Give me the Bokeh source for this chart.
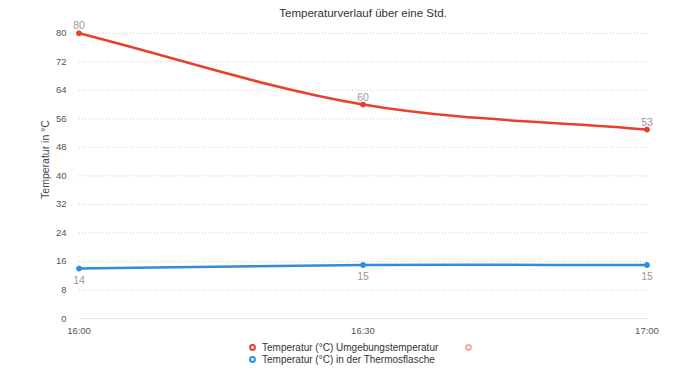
from bokeh.plotting import figure
from bokeh.layouts import column
from bokeh.models import (ColumnDataSource, Range1d, FixedTicker, Legend, LegendItem,
                          LabelSet, Label)
from bokeh.core.properties import value
from bokeh.embed import file_html
from bokeh.resources import INLINE

# ---- data ----
times = ["16:00", "16:30", "17:00"]
minutes = [0, 30, 60]
umgebung = [80, 60, 53]
thermos = [14, 15, 15]
y_ticks = [0, 8, 16, 24, 32, 40, 48, 56, 64, 72, 80]

RED = "#e5412d"
BLUE = "#2f8edb"
FONT = "Liberation Sans"
NAN = float("nan")
FRAME_H = 320
Y_TOP = 89.2


def bezier_source(xs, ys):
    n = len(xs)
    d = [(ys[i + 1] - ys[i]) / (xs[i + 1] - xs[i]) for i in range(n - 1)]
    m = [d[0]] + [(d[i - 1] + d[i]) / 2 for i in range(1, n - 1)] + [d[-1]]
    x0, y0, x1, y1, cx0, cy0, cx1, cy1 = [], [], [], [], [], [], [], []
    for i in range(n - 1):
        h = xs[i + 1] - xs[i]
        x0.append(xs[i]); y0.append(ys[i])
        x1.append(xs[i + 1]); y1.append(ys[i + 1])
        cx0.append(xs[i] + h / 3); cy0.append(ys[i] + m[i] * h / 3)
        cx1.append(xs[i + 1] - h / 3); cy1.append(ys[i + 1] - m[i + 1] * h / 3)
    return ColumnDataSource(dict(x0=x0, y0=y0, x1=x1, y1=y1,
                                 cx0=cx0, cy0=cy0, cx1=cx1, cy1=cy1))


p = figure(width=700, height=338, output_backend="svg", toolbar_location=None,
           x_range=Range1d(-0.9, 60.9), y_range=Range1d(0, Y_TOP),
           min_border_left=70, min_border_right=45, min_border_top=0,
           min_border_bottom=18)
p.outline_line_color = None
p.background_fill_color = "white"

# title drawn inside the top of the frame
p.add_layout(Label(x=(minutes[0] + minutes[-1]) / 2, y=Y_TOP * (FRAME_H - 13) / FRAME_H,
                   text="Temperaturverlauf über eine Std.", text_align="center",
                   text_baseline="middle", text_font=FONT, text_font_size="11.5px",
                   text_color="#333333"))

p.xaxis.ticker = FixedTicker(ticks=minutes)
p.xaxis.major_label_overrides = {m: t for m, t in zip(minutes, times)}
p.yaxis.ticker = FixedTicker(ticks=y_ticks)
for ax in (p.xaxis[0], p.yaxis[0]):
    ax.axis_line_color = None
    ax.major_tick_line_color = None
    ax.minor_tick_line_color = None
    ax.major_tick_out = 0
    ax.major_tick_in = 0
    ax.minor_tick_out = 0
    ax.major_label_text_font = FONT
    ax.major_label_text_font_size = "9.5px"
    ax.major_label_text_color = "#555555"
p.xaxis.major_label_standoff = 6
p.yaxis.major_label_standoff = 4
p.yaxis.axis_label = "Temperatur in °C"
p.yaxis.axis_label_text_font = FONT
p.yaxis.axis_label_text_font_size = "10.5px"
p.yaxis.axis_label_text_font_style = "normal"
p.yaxis.axis_label_text_color = "#444444"
p.yaxis.axis_label_standoff = 2

p.xgrid.grid_line_color = None
p.ygrid.grid_line_color = None

# grid lines spanning the time axis
n_grid = len(y_ticks) - 1
p.segment(x0=[minutes[0]] * n_grid, x1=[minutes[-1]] * n_grid,
          y0=y_ticks[1:], y1=y_ticks[1:], line_color="#cccccc",
          line_width=1, line_dash="1 2")
p.segment(x0=[minutes[0]], x1=[minutes[-1]], y0=[y_ticks[0]], y1=[y_ticks[0]],
          line_color="#cccccc", line_width=1)

for ys, col in ((umgebung, RED), (thermos, BLUE)):
    src = bezier_source(minutes, ys)
    p.bezier(x0="x0", y0="y0", x1="x1", y1="y1", cx0="cx0", cy0="cy0",
             cx1="cx1", cy1="cy1", source=src, line_color=col, line_width=2.5)
    p.scatter(minutes, ys, size=5, color=col)

lab_src_r = ColumnDataSource(dict(x=minutes, y=umgebung, t=[str(v) for v in umgebung]))
lab_src_b = ColumnDataSource(dict(x=minutes, y=thermos, t=[str(v) for v in thermos]))
p.add_layout(LabelSet(x="x", y="y", text="t", source=lab_src_r, y_offset=4,
                      text_align="center", text_baseline="bottom",
                      text_font=value(FONT), text_font_size=value("10.5px"),
                      text_color="#9a9a9a"))
p.add_layout(LabelSet(x="x", y="y", text="t", source=lab_src_b, y_offset=-7,
                      text_align="center", text_baseline="top",
                      text_font=value(FONT), text_font_size=value("10.5px"),
                      text_color="#9a9a9a"))

# ---- legend in a thin strip below ----
q = figure(width=700, height=30, output_backend="svg", toolbar_location=None,
           x_range=Range1d(0, 1), y_range=Range1d(0, 1),
           x_axis_type=None, y_axis_type=None,
           min_border_left=0, min_border_right=0, min_border_top=0,
           min_border_bottom=0)
q.outline_line_color = None
q.xgrid.grid_line_color = None
q.ygrid.grid_line_color = None

r1 = q.scatter([NAN], [NAN], marker="circle", size=7, fill_color="white",
               line_color=RED, line_width=2)
r2 = q.scatter([NAN], [NAN], marker="circle", size=7, fill_color="white",
               line_color=BLUE, line_width=2)
r3 = q.scatter([NAN], [NAN], marker="circle", size=7, fill_color="white",
               line_color=RED, line_width=2, line_alpha=0.45)
legend = Legend(items=[
    LegendItem(label="Temperatur (°C) Umgebungstemperatur", renderers=[r1]),
    LegendItem(label="Temperatur (°C) in der Thermosflasche", renderers=[r2]),
    LegendItem(label=" ", renderers=[r3]),
], orientation="vertical", nrows=2, ncols=2, location=(176, 3),
    label_text_font=FONT, label_text_font_size="10px", label_text_color="#333333",
    label_height=11, label_width=200, glyph_height=12, glyph_width=12,
    label_standoff=4, spacing=-1, padding=2, margin=0, border_line_color=None,
    background_fill_alpha=0)
q.add_layout(legend, "center")

open("out.html", "w").write(file_html(column(p, q, spacing=0), INLINE))
